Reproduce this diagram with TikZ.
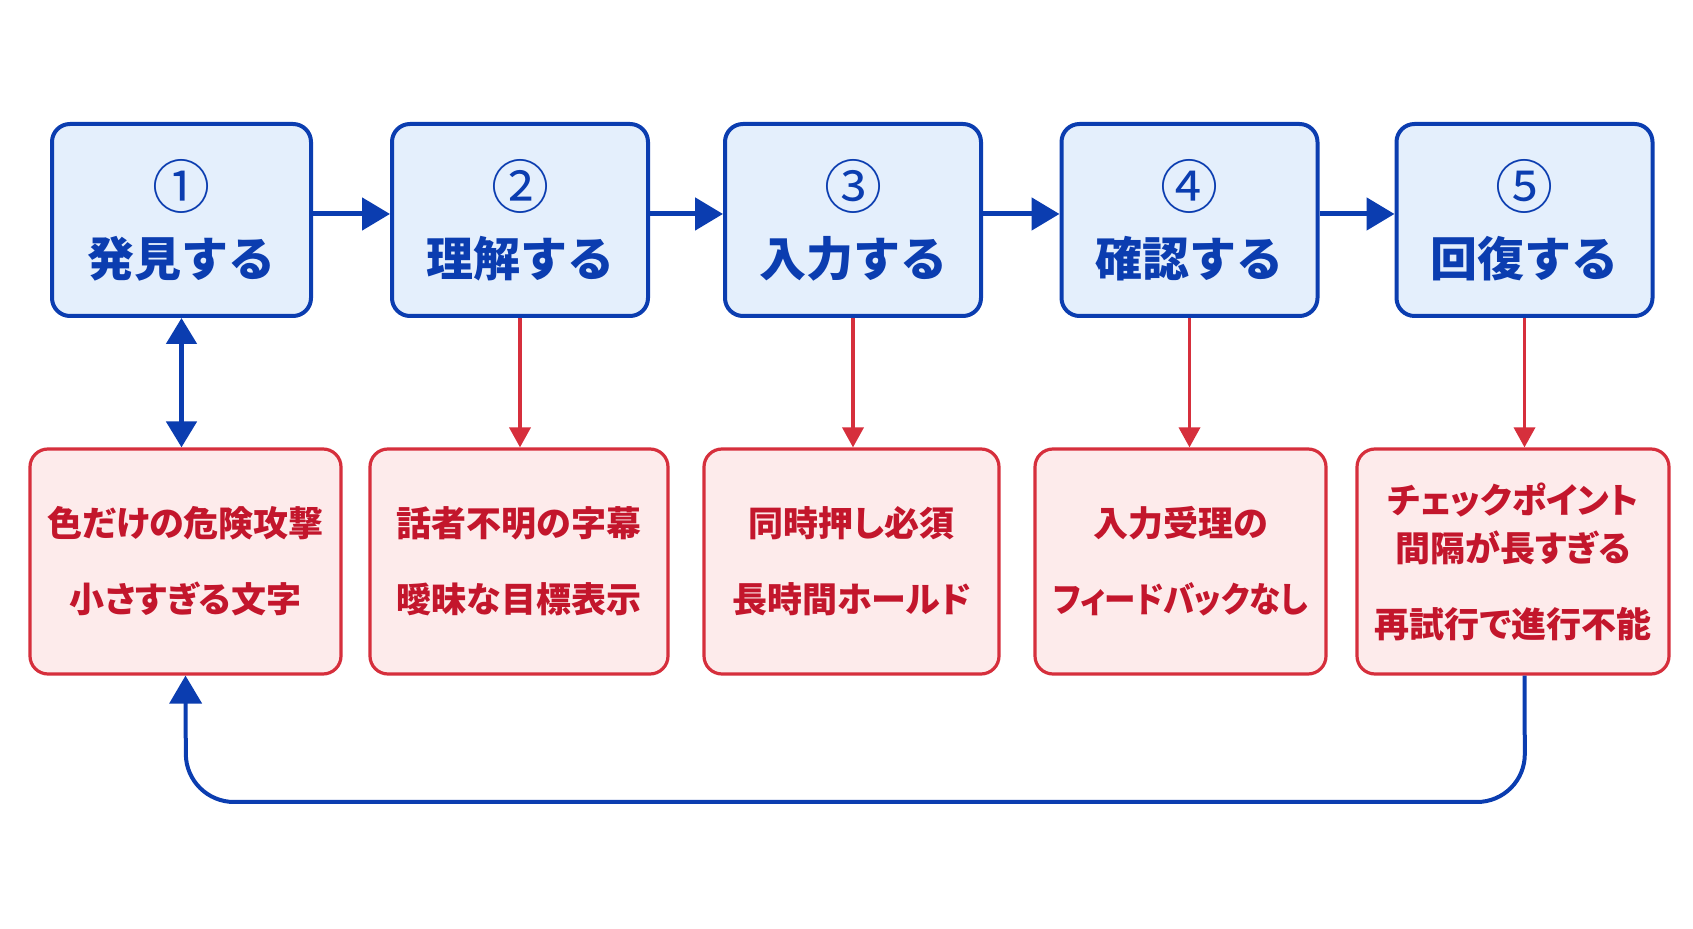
\documentclass[tikz,border=0pt]{standalone}
\usepackage{fontspec}
\setmainfont{Noto Sans CJK JP}
\newfontfamily\issuefont{Noto Sans CJK JP}[RawFeature={+palt}]
\usetikzlibrary{arrows.meta}
\definecolor{stepblue}{HTML}{0B3DB0}
\definecolor{stepfill}{HTML}{E4EFFC}
\definecolor{issuered}{HTML}{D62F3C}
\definecolor{issuefill}{HTML}{FDEBEB}
\definecolor{issuetext}{HTML}{C3162C}
\tikzset {>=Stealth}

\begin{document}
\begin{tikzpicture}[x=0.5pt,y=-0.5pt,
  stepbox/.style={draw=stepblue,line width=2pt,fill=stepfill,rounded corners=9pt,
    minimum width=128pt,minimum height=96pt,align=center,text=stepblue,
    font=\bfseries\fontsize{23.5}{30}\selectfont},
  issuebox/.style={draw=issuered,line width=1.6pt,fill=issuefill,rounded corners=9pt,
    minimum height=112.5pt,align=center,text=issuetext,
    font=\issuefont\bfseries\fontsize{17.5}{24}\selectfont},
  flow/.style={draw=stepblue,line width=2.5pt,-{Triangle[length=14pt,width=16pt]}},
  issue/.style={draw=issuered,line width=1.8pt,-{Triangle[length=10pt,width=10.5pt]}}]
\useasboundingbox (0,0) rectangle (1693,929);
\fill[white] (0,0) rectangle (1693,929);

\newcommand\stepno[1]{{\mdseries\fontsize{29}{29}\selectfont #1}\\[4pt]}

\node[stepbox,minimum width=129.5pt] (b1) at (181.5,220) {\stepno{①}発見する};
\node[stepbox] (b2) at (520,220) {\stepno{②}理解する};
\node[stepbox] (b3) at (853,220) {\stepno{③}入力する};
\node[stepbox] (b4) at (1189.5,220) {\stepno{④}確認する};
\node[stepbox] (b5) at (1524.5,220) {\stepno{⑤}回復する};

\node[issuebox,minimum width=155.5pt] (r1) at (185.5,561.5)
  {色だけの危険攻撃\\[14pt]小さすぎる文字};
\node[issuebox,minimum width=149pt] (r2) at (519,561.5)
  {話者不明の字幕\\[14pt]曖昧な目標表示};
\node[issuebox,minimum width=147.5pt] (r3) at (851.5,561.5)
  {同時押し必須\\[14pt]長時間ホールド};
\node[issuebox,minimum width=145.5pt] (r4) at (1180.5,561.5)
  {入力受理の\\[14pt]\scalebox{0.9}[1]{フィードバックなし}};
\node[issuebox,minimum width=156pt] (r5) at (1513,561.5)
  {チェックポイント\\間隔が長すぎる\\[14pt]再試行で進行不能};

\foreach \a/\b in {b1/b2,b2/b3,b3/b4,b4/b5}
  \draw[flow] ([yshift=3pt]\a.east) -- ([yshift=3pt]\b.west);

\draw[flow,{Triangle[length=13pt,width=15pt]}-{Triangle[length=13pt,width=15pt]}]
  (b1.south) -- (b1.south |- r1.north);
\foreach \n in {2,3,4,5}
  \draw[issue] (b\n.south) -- (b\n.south |- r\n.north);

\coordinate (loopR) at (1525,802);
\coordinate (loopL) at (186,802);
\draw[flow,line width=2pt,rounded corners=24pt]
  (b5.south |- r5.south) -- (loopR) -- (loopL) -- (r1.south);
\end{tikzpicture}
\end{document}
